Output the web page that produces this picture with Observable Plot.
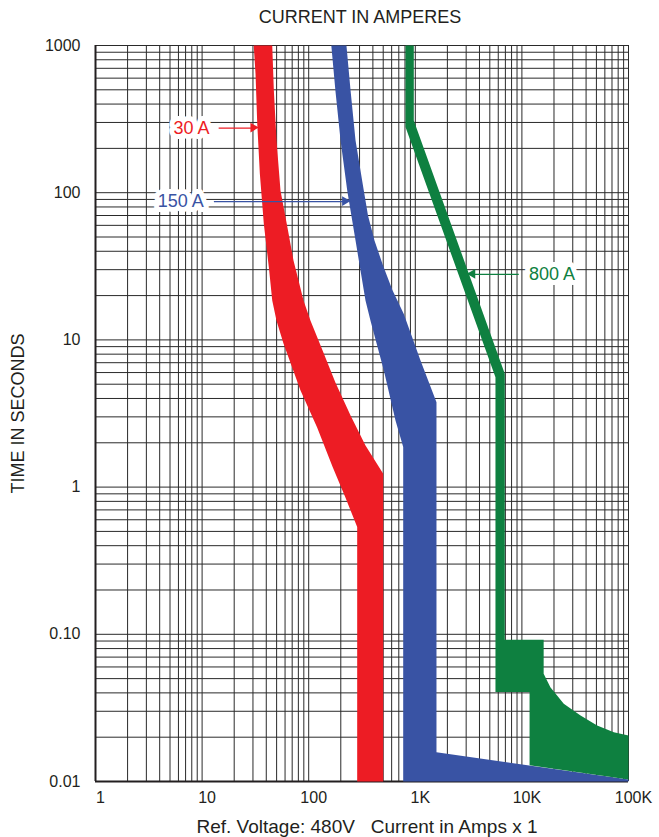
<!DOCTYPE html>
<html>
<head>
<meta charset="utf-8">
<script src="https://cdn.jsdelivr.net/npm/d3@7"></script>
<script src="https://cdn.jsdelivr.net/npm/@observablehq/plot@0.6"></script>
<style>
  html, body { margin: 0; padding: 0; background: #fff; }
  #chart svg { display: block; }
</style>
</head>
<body>
<div id="chart"></div>
<script>
// ---- Data (current in A, time in s) ----
const xTicks = [1, 10, 100, 1000, 10000, 100000];
const xTickLabels = ["1", "10", "100", "1K", "10K", "100K"];
const yTicks = [1000, 100, 10, 1, 0.1, 0.01];
const yTickLabels = ["1000", "100", "10", "1", "0.10", "0.01"];
const gridMultipliers = [1, 2, 3, 4, 5, 6, 7, 8, 9];
const xDecades = [1, 10, 100, 1000, 10000];
const yDecades = [0.01, 0.1, 1, 10, 100];

// 30 A breaker band
const red30Left = [[30.5,1000],[31.7,645],[32.9,295],[34.8,135],[37.9,61.8],[42.3,31],[45.5,18.5],[49.9,13.5],[58,9.46],[83.8,4.53],[120,2.54],[167,1.38],[221,0.85],[285,0.535],[285,0.01]];
const red30Right = [[45.5,1000],[47.1,494],[49.9,226],[54.4,103],[63.2,58.1],[72,34.6],[80.2,25.4],[89.4,18.5],[104,13.5],[135,8.47],[178,5.14],[247,3.06],[341,1.92],[500,1.23],[500,0.01]];

// 150 A breaker band
const blue150Left = [[163,1000],[178,494],[199,226],[230,103],[275,47.3],[341,18.5],[380,13.5],[507,6.19],[652,2.83],[770,1.87],[770,0.01]];
const blue150Right = [[226,1000],[247,494],[275,226],[329,103],[360,70],[414,47.3],[498,32],[611,21.7],[780,15.0],[1119,7.24],[1580,3.77],[1580,0.0158],[100000,0.0103],[100000,0.01]];

// 800 A breaker band (outline)
const green800Outline = [[809,1000],[809,279],[5650,5.58],[5650,0.0405],[11800,0.0405],[11800,0.0129],[100000,0.0103],[100000,0.0205],[72800,0.0216],[50800,0.024],[35500,0.0281],[24700,0.0337],[18500,0.0437],[16000,0.054],[16000,0.092],[6910,0.092],[6910,5.89],[968,309],[968,1000]];

// Labels and arrows
const bandLabels = [
  {text: "30 A", x: 7.95, y: 275, color: "#ed1c24"},
  {text: "150 A", x: 6.31, y: 87, color: "#3953a4"},
  {text: "800 A", x: 19200, y: 27.9, color: "#0e8040"}
];
const arrows = [
  {x1: 14.3, x2: 30.5, y: 275, color: "#ed1c24", dir: 90, dx: -4},
  {x1: 12.9, x2: 221, y: 87, color: "#3953a4", dir: 90, dx: -4},
  {x1: 9350, x2: 3475, y: 27.9, color: "#0e8040", dir: -90, dx: 4}
];

// ---- Build ----
const xGrid = xDecades.flatMap(d => gridMultipliers.map(m => d * m)).concat([100000]);
const yGrid = yDecades.flatMap(d => gridMultipliers.map(m => d * m)).concat([1000]);
const poly = (a, b) => a.concat(b.slice().reverse()).map(([x, y]) => ({x, y}));
const redPoly = poly(red30Left, red30Right);
const bluePoly = poly(blue150Left, blue150Right);
const greenPoly = green800Outline.map(([x, y]) => ({x, y}));

const ink = "#231f20";
const font = "Liberation Sans, Arial, Helvetica, sans-serif";

const chart = Plot.plot({
  width: 659,
  height: 837,
  marginLeft: 95,
  marginRight: 31,
  marginTop: 45,
  marginBottom: 56,
  style: {fontFamily: font, background: "#fff"},
  x: {type: "log", domain: [1, 100000], axis: null},
  y: {type: "log", domain: [0.01, 1000], axis: null},
  marks: [
    Plot.ruleX(xGrid, {x: d => d, stroke: "#2a2a2a", strokeWidth: 1}),
    Plot.ruleY(yGrid, {y: d => d, stroke: "#2a2a2a", strokeWidth: 1}),
    Plot.ruleX([1], {x: d => d, stroke: ink, strokeWidth: 2}),
    Plot.ruleY([0.01], {y: d => d, stroke: ink, strokeWidth: 2}),
    Plot.line(redPoly, {x: "x", y: "y", fill: "#ed1c24", stroke: "none", curve: "linear"}),
    Plot.line(bluePoly, {x: "x", y: "y", fill: "#3953a4", stroke: "none", curve: "linear"}),
    Plot.line(greenPoly, {x: "x", y: "y", fill: "#0e8040", stroke: "none", curve: "linear"}),
    Plot.link(arrows, {x1: "x1", x2: "x2", y1: "y", y2: "y", stroke: "color", strokeWidth: 1.3}),
    Plot.dot(arrows, {x: "x2", y: "y", symbol: "triangle", rotate: "dir", r: 3.6, fill: "color", stroke: "none", dx: "dx"}),
    Plot.text(bandLabels, {x: "x", y: "y", text: "text", fill: "color", fontSize: 18, stroke: "white", strokeWidth: 10, fontFamily: font}),
    Plot.text(xTicks, {x: d => d, text: (d, i) => xTickLabels[i], frameAnchor: "bottom", lineAnchor: "middle", dy: 16, dx: 5, fontSize: 16, fill: ink, fontFamily: font}),
    Plot.text(yTicks, {y: d => d, text: (d, i) => yTickLabels[i], frameAnchor: "left", textAnchor: "end", lineAnchor: "middle", dx: -15, fontSize: 16, fill: ink, fontFamily: font}),
    Plot.text(["CURRENT IN AMPERES"], {frameAnchor: "top", textAnchor: "middle", lineAnchor: "middle", dy: -28, dx: -2, fontSize: 18, fill: ink, fontFamily: font}),
    Plot.text(["Ref. Voltage: 480V\u00a0\u00a0\u00a0Current in Amps x 1"], {frameAnchor: "bottom", textAnchor: "middle", lineAnchor: "middle", dy: 45, dx: 5, fontSize: 19, fill: ink, fontFamily: font}),
    Plot.text(["TIME IN SECONDS"], {frameAnchor: "left", textAnchor: "middle", lineAnchor: "middle", rotate: -90, dx: -77, fontSize: 18, fill: ink, fontFamily: font})
  ]
});
document.getElementById("chart").appendChild(chart);
</script>
</body>
</html>
